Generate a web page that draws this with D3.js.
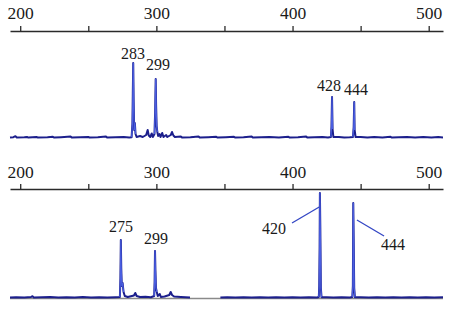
<!DOCTYPE html>
<html><head><meta charset="utf-8">
<script src="https://cdn.jsdelivr.net/npm/d3@7"></script>
<style>body{margin:0;background:#fff}svg{display:block}</style>
</head><body>
<svg id="c" width="454" height="311"></svg>
<script>
// ---- data (bp, relative intensity) ----
const axisTicksMajor = [200, 300, 400, 500];
const axisTicksMinor = [250, 350, 450];
const topTrace = [
[192.5,5],[195,8],[196.5,18],[197.5,5],[203,8],[205,10],[206,4],[212,10],[213,4],[220,8],[224,12],[225,4],[230,8],[237,14],[238,4],[244,8],[250,10],[251,4],[257,8],[263,14],[264,4],[270,8],[276,10],[280,6],
[281.8,8],[282.4,140],[282.7,450],[283.0,750],[283.3,380],[283.7,80],[284.2,150],[284.7,40],[285.5,10],[288,20],[290,10],[292.5,30],[293.6,80],[294.4,25],[295.5,10],[296.6,45],[297.4,10],
[298.6,40],[299.1,260],[299.5,590],[299.8,330],[300.2,120],[300.7,60],[301.3,20],[302.3,40],[303,10],[304.3,50],[305.2,10],[307.2,30],[308,10],[310.6,30],[311.5,60],[312.5,25],[313.6,10],[318,14],[319,4],
[325,8],[331,14],[332,4],[338,8],[344,12],[345,4],[351,8],[357,12],[358,4],[364,8],[370,14],[371,4],[377,8],[383,10],[390,6],[397,12],[398,4],[404,8],[410,14],[411,4],[416,8],[422,10],[426,6],
[428.2,10],[428.6,110],[429.0,410],[429.4,90],[430,10],[434,10],[438,6],[442,8],[444.4,10],[444.9,110],[445.3,360],[445.6,80],[446.3,10],
[450,10],[455,4],[460,10],[466,6],[472,12],[473,4],[478,8],[484,10],[490,6],[496,10],[502,6],[507,10],[510.5,6]
];
const bottomTraceA = [
[192.5,6],[197,8],[203,6],[208,10],[209,18],[210,6],[216,8],[222,10],[228,6],[234,8],[240,6],[246,10],[252,6],[258,8],[264,6],[270,8],
[273.2,10],[273.6,200],[273.9,580],[274.2,300],[274.6,120],[275.2,150],[275.9,60],[276.8,20],[279,10],[283.5,25],[284.5,50],[285.5,20],[288,10],[292,12],[296,8],
[298.4,20],[298.7,160],[299.0,470],[299.3,280],[299.7,100],[300.3,60],[301,20],[302.5,40],[303.3,10],[306,15],[309.5,30],[310.5,60],[311.5,30],[313,15],[318,10],[324.7,5]
];
const bottomTraceB = [
[347,6],[352,8],[358,6],[364,8],[370,6],[376,8],[382,6],[388,8],[394,6],[400,8],[406,6],[412,8],[418,6],
[419.3,10],[419.6,120],[419.9,520],[420.1,1050],[420.4,700],[420.8,100],[421.3,8],[425,8],[430,6],[436,8],[442,6],
[443.9,10],[444.3,120],[444.6,950],[444.9,600],[445.3,100],[445.8,8],[450,8],[456,6],[462,8],[468,6],[474,8],[480,6],[486,8],[492,6],[498,8],[504,6],[510.5,8]
];
const topLabels = [
  {text:"283", bp:282.8, v:790},
  {text:"299", bp:301.2, v:680},
  {text:"428", bp:426.8, v:470},
  {text:"444", bp:446.6, v:430}
];
const bottomLabels = [
  {text:"275", bp:274.0, v:660},
  {text:"299", bp:299.7, v:540},
  {text:"420", bp:386.4, v:640},
  {text:"444", bp:473.8, v:480}
];
const bottomLeaders = [
  [[399.6,750],[419.6,910]],
  [[447.3,780],[467.2,620]]
];

// ---- drawing ----
const FONT = "'Liberation Serif', 'Times New Roman', serif";
const svg = d3.select("#c");
const x = d3.scaleLinear().domain([192.5, 510.5]).range([10, 443]);

function peakRuns(t, thr){
  const runs = []; let cur = null;
  t.forEach((d, i) => {
    if (d[1] >= thr) {
      if (!cur) { cur = i > 0 ? [t[i-1]] : []; runs.push(cur); }
      cur.push(d);
    } else if (cur) { cur.push(d); cur = null; }
  });
  return runs;
}

function panel(axisY, labelBase, baseY, traces, labels, leaders, gap){
  const y = d3.scaleLinear().domain([0, 1000]).range([baseY, baseY - 100]);
  const ax = d3.axisTop(x).tickValues(axisTicksMajor.concat(axisTicksMinor))
    .tickSize(5).tickSizeOuter(0).tickPadding(axisY - labelBase - 5)
    .tickFormat(d => axisTicksMajor.includes(d) ? d : "");
  const g = svg.append("g").attr("transform", `translate(0,${axisY})`).call(ax);
  g.attr("font-family", null);
  g.select(".domain").attr("stroke", "#2a2a2a").attr("stroke-width", 1.4);
  g.selectAll(".tick line").attr("stroke", "#2a2a2a").attr("stroke-width", 1.3);
  g.selectAll(".tick text").style("font-family", FONT)
    .style("font-size", "17.5px").attr("fill", "#1a1a1a");

  if (gap) {
    svg.append("line").attr("x1", x(192.5)).attr("x2", x(510.5))
      .attr("y1", y(0)+0.5).attr("y2", y(0)+0.5).attr("stroke", "#8a8a8a").attr("stroke-width", 1.4);
  }
  const line = d3.line().x(d => x(d[0])).y(d => y(d[1]));
  traces.forEach(t => {
    svg.append("path").attr("d", line(t)).attr("fill", "none")
      .attr("stroke", "#1c1f8c").attr("stroke-width", 2).attr("stroke-linejoin", "round");
    peakRuns(t, 100).forEach(r => {
      svg.append("path").attr("d", line(r)).attr("fill", "none")
        .attr("stroke", "#4a5ee0").attr("stroke-width", 1.2).attr("stroke-linejoin", "round");
    });
  });
  (leaders||[]).forEach(l => {
    svg.append("line").attr("x1", x(l[0][0])).attr("y1", y(l[0][1]))
      .attr("x2", x(l[1][0])).attr("y2", y(l[1][1]))
      .attr("stroke", "#3346c4").attr("stroke-width", 1.3);
  });
  svg.selectAll(null).data(labels).enter().append("text")
    .attr("x", d => x(d.bp)).attr("y", d => y(d.v))
    .attr("text-anchor", "middle")
    .style("font-family", FONT)
    .style("font-size", "16px").attr("fill", "#1a1a1a")
    .text(d => d.text);
}

panel(31, 19, 138, [topTrace], topLabels, null, false);
panel(189, 178, 298, [bottomTraceA, bottomTraceB], bottomLabels, bottomLeaders, true);
</script>
</body></html>
